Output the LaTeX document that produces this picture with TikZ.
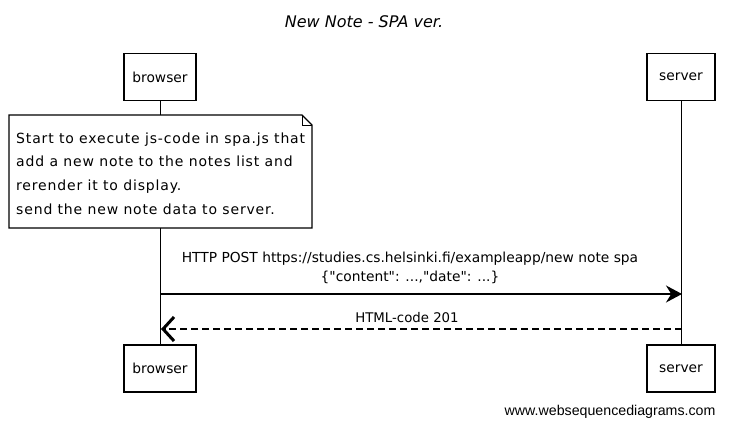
\documentclass[tikz,border=0pt]{standalone}
\usepackage{fontspec}
\setmainfont{Liberation Sans}
\newfontfamily\hand{DejaVu Sans}
\newfontfamily\handsp[LetterSpace=6]{DejaVu Sans}
\usetikzlibrary{arrows.meta}
\begin{document}
\begin{tikzpicture}[x=1pt,y=-1pt,
  actor/.style={draw,line width=1.1pt,minimum width=72pt,minimum height=47pt,font=\hand\fontsize{13.8}{15}\selectfont},
  lifeline/.style={line width=0.8pt},
  msg/.style={font=\hand\fontsize{13.8}{19}\selectfont,align=center},
]
\useasboundingbox (0,0) rectangle (729,428);
\node[font=\hand\fontsize{16}{18}\selectfont\itshape] (title) at (364,22) {New Note - SPA ver.};
\node[actor] (bt) at (160,77) {browser};
\node[actor,minimum width=68pt] (st) at (681,77) {server};
\node[actor] (bb) at (160,368.5) {browser};
\node[actor,minimum width=68pt] (sb) at (681,368.5) {server};
% note
\draw[line width=1.1pt,fill=white] (9,115) -- (302,115) -- (312,125) -- (312,228) -- (9,228) -- cycle;
\draw[line width=0.8pt] (302,115) -- (302,125) -- (312,125);
\node[anchor=west,align=left,font=\handsp\fontsize{14}{23.7}\selectfont,inner sep=0pt] (note) at (16,173.5)
 {Start to execute js-code in spa.js that\\add a new note to the notes list and\\rerender it to display.\\send the new note data to server.};
\coordinate (nt) at (160,115);
\coordinate (nb) at (160,228);
\draw[lifeline] (bt.south) -- (nt);
\draw[lifeline] (nb) -- (bb.north);
\draw[lifeline] (st.south) -- (sb.north);
% messages
\coordinate (m1a) at (160,294);
\coordinate (m1b) at (682,294);
\draw[line width=1.1pt,-{Stealth[length=16pt,width=17pt]}] (m1a) -- (m1b);
\node[msg] (m1) at (410,267.5) {HTTP POST https://studies.cs.helsinki.fi/exampleapp/new note spa\\\{"content": ...,"date": ...\}};
\coordinate (m2a) at (682,329);
\coordinate (m2b) at (161,329);
\draw[line width=1.1pt,dash pattern=on 7pt off 4pt,-{Straight Barb[length=11pt,width=24pt,line width=3pt]}] (m2a) -- (m2b);
\node[msg,font=\hand\fontsize{13.3}{15}\selectfont] (m2) at (407,318) {HTML-code 201};
\node[anchor=east,font=\fontsize{14.2}{16}\selectfont] (foot) at (719,412) {www.websequencediagrams.com};
\end{tikzpicture}
\end{document}
